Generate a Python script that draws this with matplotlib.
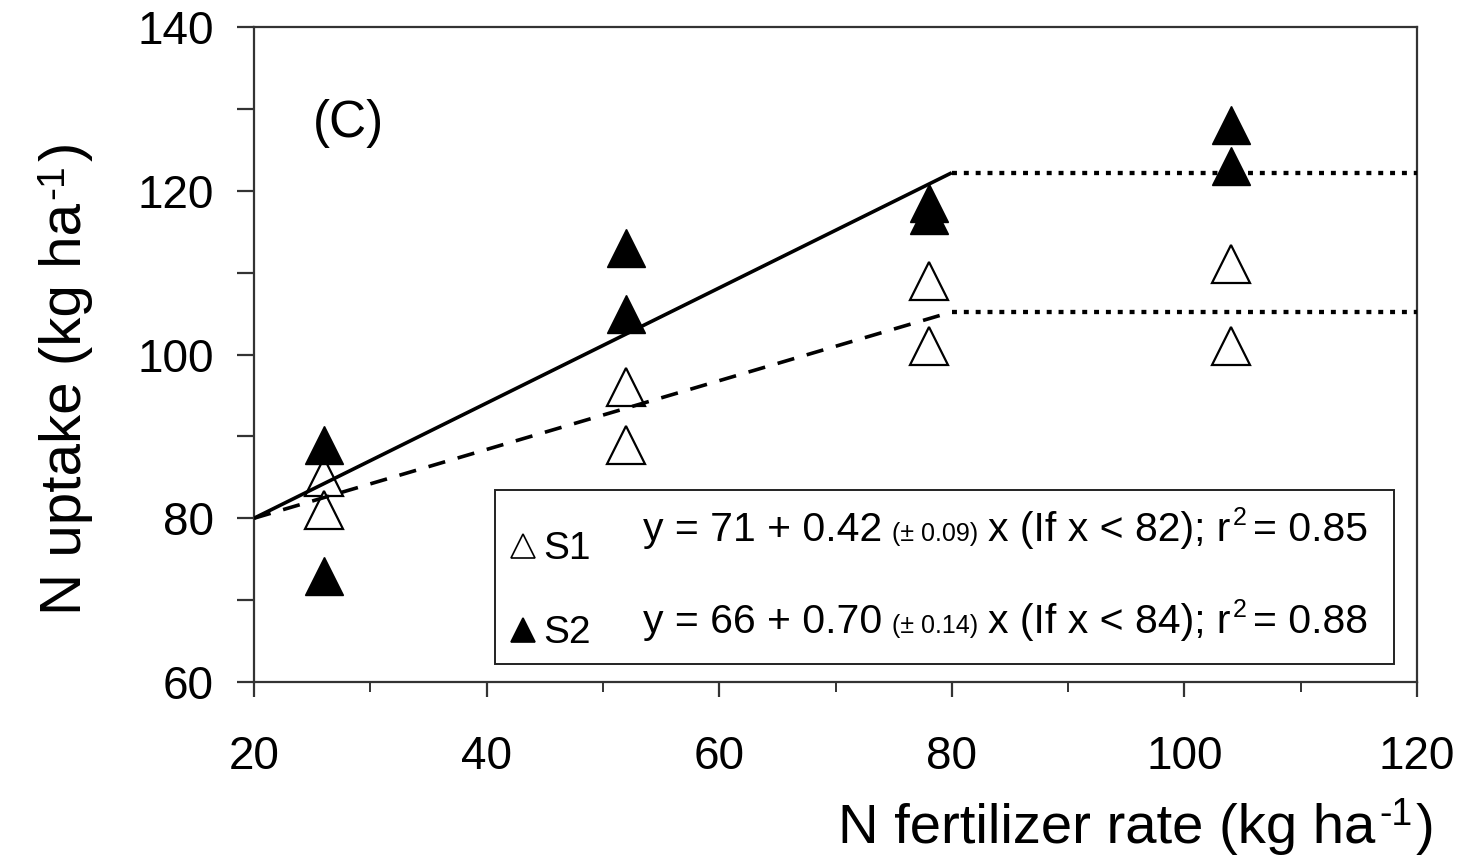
import matplotlib
matplotlib.use("Agg")
import matplotlib.pyplot as plt
from matplotlib import font_manager
from matplotlib.patches import Rectangle
from matplotlib.ticker import MultipleLocator

# ---------------- data ----------------
rates = [26, 26, 52, 52, 78, 78, 104, 104]
s1_uptake = [85, 81, 96, 89, 109, 101, 111, 101]
s2_uptake = [89, 73, 113, 105, 117, 118.5, 128, 123]

fit_x = [20, 80]
s1_fit = [80, 105.2]
s2_fit = [80, 122.2]
plateau_x = [80, 120]
s1_plateau = [105.2, 105.2]
s2_plateau = [122.2, 122.2]

x_ticks = [20, 40, 60, 80, 100, 120]
y_ticks = [60, 80, 100, 120, 140]

eq_s1 = ["y = 71 + 0.42", "(\u00b1 0.09)", "x (If x < 82); r", "2", "= 0.85"]
eq_s2 = ["y = 66 + 0.70", "(\u00b1 0.14)", "x (If x < 84); r", "2", "= 0.88"]
legend_labels = ["S1", "S2"]
panel_label = "(C)"
xlabel_parts = ["N fertilizer rate (kg ha", "-1", ")"]
ylabel_parts = ["N uptake (kg ha", "-1", ")"]

# ---------------- fonts ----------------
names = {f.name for f in font_manager.fontManager.ttflist}
BASE = "Liberation Sans" if "Liberation Sans" in names else "DejaVu Sans"
plt.rcParams["font.family"] = [BASE, "DejaVu Sans"]

W, H = 1463, 859
fig = plt.figure(figsize=(W / 100, H / 100), dpi=100)
fig.patch.set_facecolor("white")
L, R, T, B = 254, 1417, 27, 682
ax = fig.add_axes([L / W, 1 - B / H, (R - L) / W, (B - T) / H])

# markers
ax.plot(rates, s1_uptake, ls="none", marker="^", ms=27, mfc="white",
        mec="black", mew=1.6, zorder=3)
ax.plot(rates, s2_uptake, ls="none", marker="^", ms=27, mfc="black",
        mec="black", mew=1.0, zorder=3)

# fitted lines
ax.plot(fit_x, s2_fit, color="black", lw=2.6, solid_capstyle="butt", zorder=4)
ax.plot(fit_x, s1_fit, color="black", lw=2.6, ls=(0, (4.8, 3.6)), zorder=4)
ax.plot(plateau_x, s2_plateau, color="black", lw=3.1, ls=(0, (1.15, 1.6)), zorder=4)
ax.plot(plateau_x, s1_plateau, color="black", lw=3.1, ls=(0, (1.15, 1.6)), zorder=4)

ax.set_xlim(20, 120)
ax.set_ylim(60, 140)
ax.set_xticks(x_ticks)
ax.set_yticks(y_ticks)
ax.xaxis.set_minor_locator(MultipleLocator(10))
ax.yaxis.set_minor_locator(MultipleLocator(10))
for s in ax.spines.values():
    s.set_linewidth(1.6)
    s.set_color("#333333")
ax.tick_params(axis="x", which="major", direction="out", length=11, width=1.6,
               pad=27, labelsize=33, color="#333333")
ax.tick_params(axis="x", which="minor", direction="out", length=7, width=1.4,
               color="#333333")
ax.tick_params(axis="y", which="both", direction="out", length=12, width=1.6,
               pad=17, labelsize=33, color="#333333")
ax.tick_params(top=False, right=False, which="both")

ax.text((348 - L) / (R - L), (B - 124) / (B - T), panel_label, transform=ax.transAxes,
        ha="center", va="center", fontsize=37)

# legend box
ax.add_patch(Rectangle(((495 - L) / (R - L), (B - 664) / (B - T)),
                       (1394 - 495) / (R - L), (664 - 490) / (B - T),
                       transform=ax.transAxes, fill=False, lw=1.4, ec="#222222", zorder=5))

fig.canvas.draw()
renderer = fig.canvas.get_renderer()


def draw_seq(pieces, sizes, raises, gaps, x0, y0, vertical=False):
    """Lay out text pieces one after another (pixel coords, y measured from top)."""
    pos = x0 if not vertical else y0
    for txt, sz, up, gap in zip(pieces, sizes, raises, gaps):
        if vertical:
            t = fig.text((x0 - up) / W, 1 - pos / H, txt, fontsize=sz, rotation=90,
                         rotation_mode="anchor", ha="left", va="baseline")
            bb = t.get_window_extent(renderer)
            pos -= bb.height + gap
        else:
            t = fig.text(pos / W, 1 - (y0 - up) / H, txt, fontsize=sz,
                         ha="left", va="baseline", zorder=6)
            bb = t.get_window_extent(renderer)
            pos += bb.width + gap


# axis labels
draw_seq(xlabel_parts, [40.5, 27, 40.5], [0, 18, 0], [4, 3, 0], 838, 843)
draw_seq(ylabel_parts, [42, 28, 42], [0, 18, 0], [4, 3, 0], 81, 615, vertical=True)

# equations
big, small = 29.5, 18
for pieces, base_y in [(eq_s1, 541), (eq_s2, 633)]:
    draw_seq(pieces, [big, small, big, small, big], [0, 0, 0, 16, 0],
             [10, 10, 2, 6, 0], 643, base_y)

# legend symbols
for (lab, yc, face) in [(legend_labels[0], 546, "white"), (legend_labels[1], 630, "black")]:
    ax.plot([(523 - L) / (R - L)], [(B - yc) / (B - T)], transform=ax.transAxes,
            ls="none", marker="^", ms=17, mfc=face, mec="black", mew=1.2, zorder=6,
            clip_on=False)
    fig.text(543 / W, 1 - (yc + 13) / H, lab, fontsize=28, ha="left", va="baseline")

fig.savefig("out.png", dpi=100, facecolor="white")
